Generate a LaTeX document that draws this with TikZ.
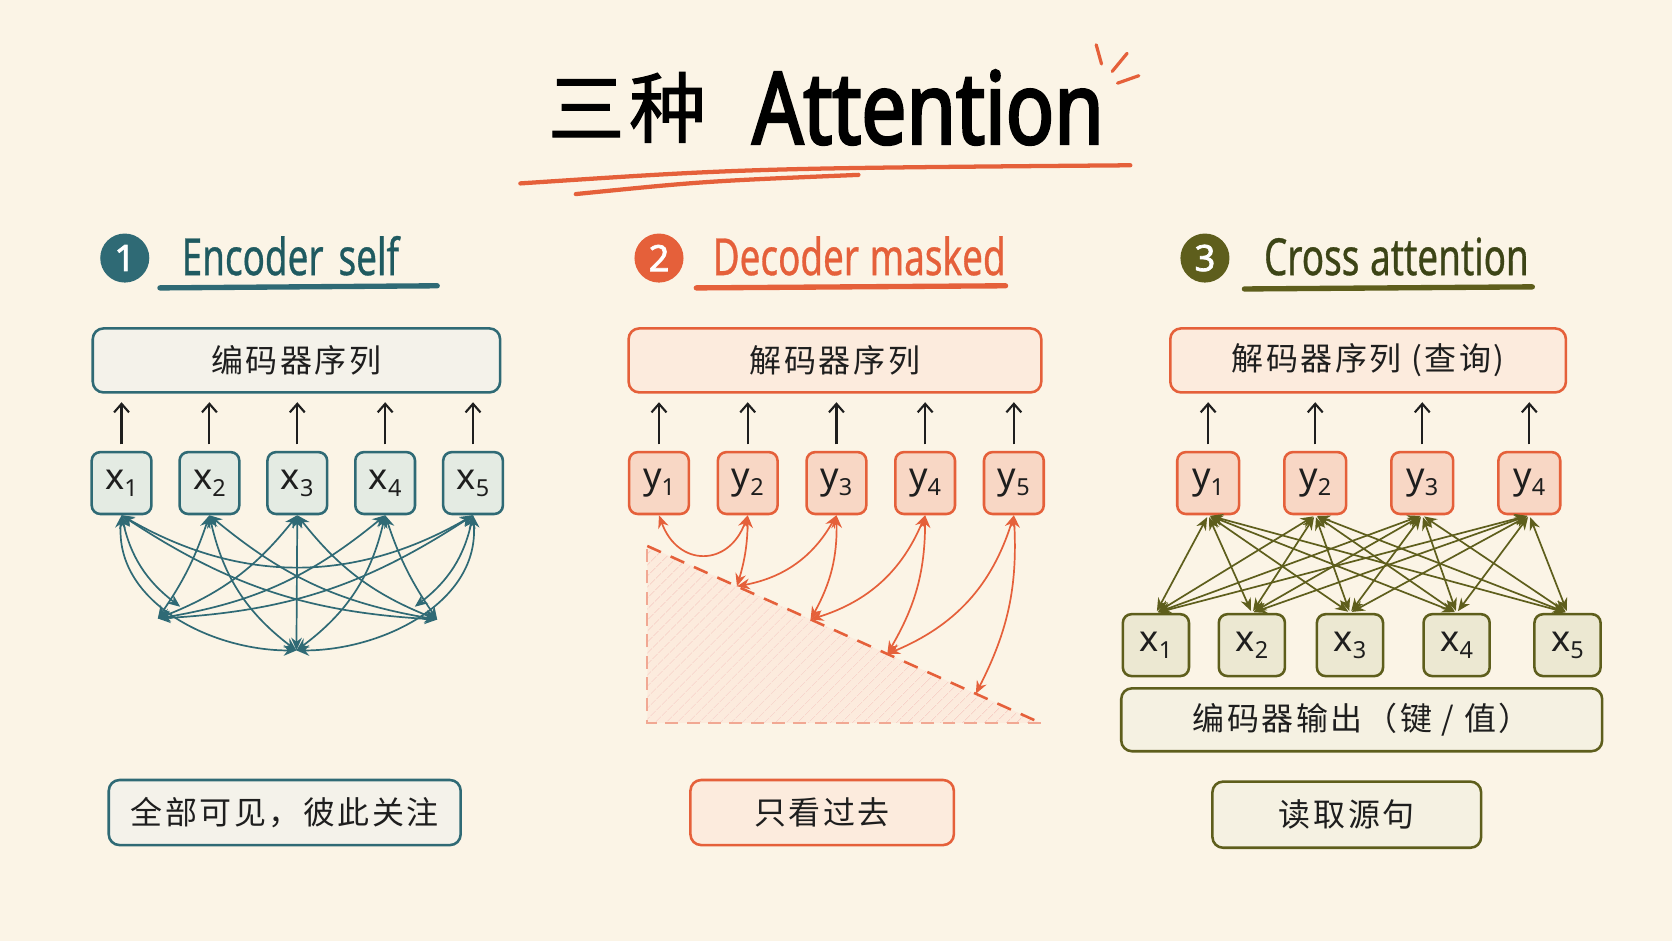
\documentclass[tikz,border=0pt]{standalone}
\usepackage{fontspec}
\setmainfont{Noto Sans}
\newfontfamily\cjk[LetterSpace=8]{Noto Sans CJK SC}
\newfontfamily\cjktitle[LetterSpace=6,FakeBold=1.5]{Noto Sans CJK SC}
\newfontfamily\hand[FakeStretch=0.72,FakeBold=0.6]{Noto Sans}
\newfontfamily\heavy[FakeStretch=0.8,FakeBold=2.5]{Noto Sans}
\newfontfamily\numfont[FakeBold=2]{Noto Sans}
\usetikzlibrary{arrows.meta,positioning,calc,patterns.meta}
\definecolor{paper}{HTML}{FBF4E6}
\definecolor{ink}{HTML}{1E1E1E}
\definecolor{encCol}{HTML}{2F6A75}
\definecolor{encInk}{HTML}{1F5A60}
\definecolor{encPale}{HTML}{E4EBE3}
\definecolor{encNote}{HTML}{F4F2EA}
\definecolor{decCol}{HTML}{E5603A}
\definecolor{decPale}{HTML}{F8D7C5}
\definecolor{decNote}{HTML}{FCEBDD}
\definecolor{crsCol}{HTML}{5E5E1C}
\definecolor{crsInk}{HTML}{3C4416}
\definecolor{crsPale}{HTML}{ECE8D2}
\definecolor{crsNote}{HTML}{F5F1E2}
\newcommand{\tsub}[1]{\raisebox{-0.2em}{\fontsize{11}{11}\selectfont #1}}
\tikzset{seqbox/.style={rectangle,rounded corners=5pt,line width=1.2pt,minimum height=30pt,text=ink,font=\cjk\fontsize{15}{15}\selectfont}}
\tikzset{encseq/.style={seqbox,draw=encCol,fill=encNote}}
\tikzset{decseq/.style={seqbox,draw=decCol,fill=decNote}}
\tikzset{crsseq/.style={seqbox,draw=crsCol,fill=crsNote}}
\tikzset{tokbox/.style={rectangle,rounded corners=4pt,line width=1.2pt,minimum width=28pt,minimum height=29pt,inner sep=0pt,text=ink,font=\fontsize{17}{17}\selectfont}}
\tikzset{enctok/.style={tokbox,draw=encCol,fill=encPale}}
\tikzset{dectok/.style={tokbox,draw=decCol,fill=decPale}}
\tikzset{keytok/.style={tokbox,draw=crsCol,fill=crsPale,minimum width=31pt}}
\tikzset{numdot/.style={circle,minimum size=23pt,inner sep=0pt,text=white,font=\numfont\fontsize{17}{17}\selectfont}}
\tikzset{headtxt/.style={anchor=base west,inner sep=0pt,font=\hand\fontsize{24}{24}\selectfont}}
\tikzset{upArrow/.style={-{Straight Barb[length=4pt,width=7pt]},line width=1pt,ink,shorten <=3pt,shorten >=4pt}}
\tikzset{encArrow/.style={{Stealth[length=6pt,width=5pt]}-{Stealth[length=6pt,width=5pt]},line width=0.8pt,encCol}}
\tikzset{decArrow/.style={{Stealth[length=6pt,width=5pt]}-{Stealth[length=6pt,width=5pt]},line width=0.8pt,decCol}}
\tikzset{crsArrow/.style={{Stealth[length=6pt,width=5pt]}-{Stealth[length=6pt,width=5pt]},line width=0.8pt,crsCol,shorten <=1pt,shorten >=1pt}}
\tikzset{scribble/.style={line width=2.5pt,line cap=round}}

\begin{document}
\begin{tikzpicture}[x=0.5pt,y=-0.5pt]
\useasboundingbox (0,0) rectangle (1568,882);
\fill[paper] (0,0) rectangle (1568,882);

% title
\node (titlecn) [anchor=base,inner sep=0pt,font=\cjktitle\fontsize{36}{36}\selectfont] at (588,128) {三种};
\node (titleen) [anchor=base west,inner sep=0pt,font=\heavy\fontsize{47}{47}\selectfont] at (705,135) {Attention};
\draw[decCol,scribble,line width=2pt] (488,172) .. controls (700,158) .. (1060,155);
\draw[decCol,scribble,line width=2pt] (540,182) .. controls (660,170) .. (805,164);
\draw[decCol,scribble,line width=1.5pt] (1028,42) -- (1033,60);
\draw[decCol,scribble,line width=1.5pt] (1043,67) -- (1057,50);
\draw[decCol,scribble,line width=1.5pt] (1048,78) -- (1068,71);

% headers
\node (num1) [numdot,fill=encCol] at (117,242) {1};
\node (head1) [headtxt,text=encInk] at (170,258) {Encoder\hspace{7pt}self};
\draw[encCol,scribble] (150,270) -- (410,268);
\node (num2) [numdot,fill=decCol] at (618,242) {2};
\node (head2) [headtxt,text=decCol] at (668,258) {Decoder\hspace{5pt}masked};
\draw[decCol,scribble] (653,270) -- (943,268);
\node (num3) [numdot,fill=crsCol] at (1130,242) {3};
\node (head3) [headtxt,text=crsInk] at (1185,258) {Cross\hspace{5pt}attention};
\draw[crsCol,scribble] (1167,271) -- (1437,269);

% 1: encoder self attention
\begin{scope}[node distance=12pt]
	\node (encseq) [encseq,minimum width=191pt] at (278,338) {编码器序列};
	\node (ex1) [enctok] at (114,453) {x\tsub{1}};
	\node (ex2) [enctok,right=of ex1] {x\tsub{2}};
	\node (ex3) [enctok,right=of ex2] {x\tsub{3}};
	\node (ex4) [enctok,right=of ex3] {x\tsub{4}};
	\node (ex5) [enctok,right=of ex4] {x\tsub{5}};
	\node (encnote) [encseq,minimum width=165pt,minimum height=30.5pt] at (267,762) {全部可见，彼此关注};
\end{scope}
\draw[upArrow] (ex1.north) -- (ex1.north |- encseq.south);
\draw[upArrow] (ex2.north) -- (ex2.north |- encseq.south);
\draw[upArrow] (ex3.north) -- (ex3.north |- encseq.south);
\draw[upArrow] (ex4.north) -- (ex4.north |- encseq.south);
\draw[upArrow] (ex5.north) -- (ex5.north |- encseq.south);
\coordinate (eL) at (148,580);
\coordinate (eM) at (278,610);
\coordinate (eR) at (410,581);
\coordinate (ea) at (169,569);
\coordinate (eb) at (389,569);
\draw[encArrow] (ex1.south) to[out=-95,in=180] (eM);
\draw[encArrow] (ex5.south) to[out=-85,in=0] (eM);
\draw[encArrow] (ex2.south) to[bend right=20] (eM);
\draw[encArrow] (ex4.south) to[bend left=20] (eM);
\draw[encArrow] (ex3.south) -- (eM);
\draw[encArrow] (ex2.south) to[bend left=8] (eL);
\draw[encArrow] (ex3.south) to[bend left=15] (eL);
\draw[encArrow] (ex4.south) to[bend left=15] (eL);
\draw[encArrow] (ex5.south) to[bend left=15] (eL);
\draw[encArrow] (ex1.south) to[bend right=15] (eR);
\draw[encArrow] (ex2.south) to[bend right=15] (eR);
\draw[encArrow] (ex3.south) to[bend right=15] (eR);
\draw[encArrow] (ex4.south) to[bend right=8] (eR);
\draw[encArrow] (ex1.south) to[bend right=20] (ea);
\draw[encArrow] (ex5.south) to[bend left=20] (eb);
\draw[encArrow] (ex1.south) to[bend right=30] (ex5.south);

% 2: decoder masked attention
\coordinate (ta) at (607,512);
\coordinate (tb) at (607,678);
\coordinate (tc) at (976,678);
\fill[decNote] (ta) -- (tb) -- (tc) -- cycle;
\fill[pattern={Lines[angle=45,distance=4pt,line width=0.5pt]},pattern color=decCol!30] (ta) -- (tb) -- (tc) -- cycle;
\draw[decCol!55,line width=1pt,dash pattern=on 6pt off 4pt] (tc) -- (tb) -- (ta);
\draw[decCol,line width=1.2pt,dash pattern=on 7pt off 5pt] (ta) -- (tc);
\begin{scope}[node distance=12.4pt]
	\node (decseq) [decseq,minimum width=193.5pt] at (783,338) {解码器序列};
	\node (dy1) [dectok] at (618,453) {y\tsub{1}};
	\node (dy2) [dectok,right=of dy1] {y\tsub{2}};
	\node (dy3) [dectok,right=of dy2] {y\tsub{3}};
	\node (dy4) [dectok,right=of dy3] {y\tsub{4}};
	\node (dy5) [dectok,right=of dy4] {y\tsub{5}};
	\node (decnote) [decseq,minimum width=123.5pt,minimum height=30.5pt] at (771,762) {只看过去};
\end{scope}
\draw[upArrow] (dy1.north) -- (dy1.north |- decseq.south);
\draw[upArrow] (dy2.north) -- (dy2.north |- decseq.south);
\draw[upArrow] (dy3.north) -- (dy3.north |- decseq.south);
\draw[upArrow] (dy4.north) -- (dy4.north |- decseq.south);
\draw[upArrow] (dy5.north) -- (dy5.north |- decseq.south);
\coordinate (m2) at ($(ta)!0.228!(tc)$);
\coordinate (m3) at ($(ta)!0.415!(tc)$);
\coordinate (m4) at ($(ta)!0.61!(tc)$);
\coordinate (m5) at ($(ta)!0.835!(tc)$);
\draw[decArrow] (dy1.south) to[out=-70,in=-110,looseness=1.6] (dy2.south);
\draw[decArrow] (dy2.south) to[bend left=8] (m2);
\draw[decArrow] (dy3.south) to[bend left=25] (m2);
\draw[decArrow] (dy3.south) to[bend left=15] (m3);
\draw[decArrow] (dy4.south) to[bend left=25] (m3);
\draw[decArrow] (dy4.south) to[bend left=15] (m4);
\draw[decArrow] (dy5.south) to[bend left=25] (m4);
\draw[decArrow] (dy5.south) to[bend left=15] (m5);

% 3: cross attention
\begin{scope}[node distance=20pt]
	\node (crsseq) [decseq,minimum width=185.5pt] at (1283,338) {解码器序列 (查询)};
	\node (qy1) [dectok,minimum width=29pt] at (1133,453) {y\tsub{1}};
	\node (qy2) [dectok,minimum width=29pt,right=of qy1] {y\tsub{2}};
	\node (qy3) [dectok,minimum width=29pt,right=of qy2] {y\tsub{3}};
	\node (qy4) [dectok,minimum width=29pt,right=of qy3] {y\tsub{4}};
\end{scope}
\node (kx1) [keytok] at (1084,605) {x\tsub{1}};
\node (kx2) [keytok] at (1174,605) {x\tsub{2}};
\node (kx3) [keytok] at (1266,605) {x\tsub{3}};
\node (kx4) [keytok] at (1366,605) {x\tsub{4}};
\node (kx5) [keytok] at (1470,605) {x\tsub{5}};
\node (encout) [crsseq,minimum width=225.5pt,minimum height=29.5pt] at (1277,675) {编码器输出（键 / 值）};
\node (crsnote) [crsseq,minimum width=126pt,minimum height=31pt] at (1263,764) {读取源句};
\draw[upArrow] (qy1.north) -- (qy1.north |- crsseq.south);
\draw[upArrow] (qy2.north) -- (qy2.north |- crsseq.south);
\draw[upArrow] (qy3.north) -- (qy3.north |- crsseq.south);
\draw[upArrow] (qy4.north) -- (qy4.north |- crsseq.south);
\draw (kx1.north) edge[crsArrow] (qy1.south) edge[crsArrow] (qy2.south) edge[crsArrow] (qy3.south) edge[crsArrow] (qy4.south);
\draw (kx2.north) edge[crsArrow] (qy1.south) edge[crsArrow] (qy2.south) edge[crsArrow] (qy3.south) edge[crsArrow] (qy4.south);
\draw (kx3.north) edge[crsArrow] (qy1.south) edge[crsArrow] (qy2.south) edge[crsArrow] (qy3.south) edge[crsArrow] (qy4.south);
\draw (kx4.north) edge[crsArrow] (qy1.south) edge[crsArrow] (qy2.south) edge[crsArrow] (qy3.south) edge[crsArrow] (qy4.south);
\draw (kx5.north) edge[crsArrow] (qy1.south) edge[crsArrow] (qy2.south) edge[crsArrow] (qy3.south) edge[crsArrow] (qy4.south);
\end{tikzpicture}
\end{document}
